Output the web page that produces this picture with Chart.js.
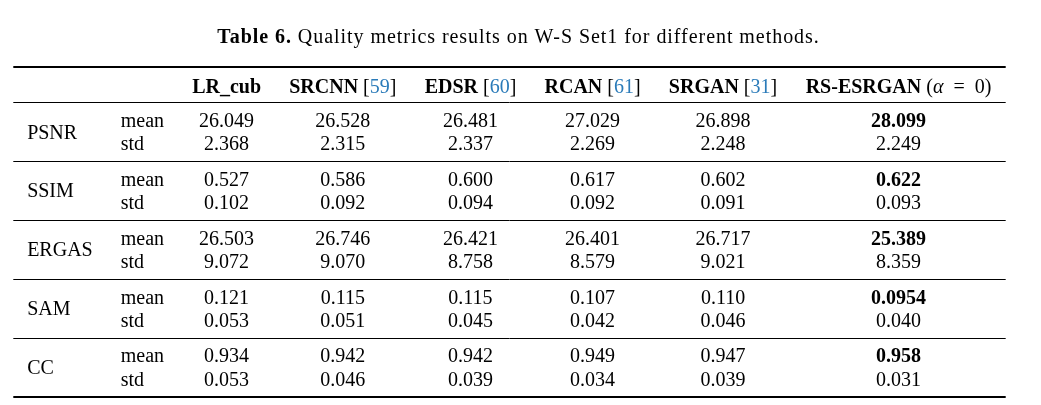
<!DOCTYPE html>
<html>
<head>
<meta charset="utf-8">
<script src="https://cdn.jsdelivr.net/npm/chart.js@4.4.0/dist/chart.umd.min.js"></script>
<style>
  html, body { margin: 0; padding: 0; background: #fff; }
</style>
</head>
<body>
<canvas id="table6" width="1041" height="405"></canvas>
<script>
// table content
var metrics = ['PSNR', 'SSIM', 'ERGAS', 'SAM', 'CC'];
var stats = ['mean', 'std'];
var methods = ['LR_cub', 'SRCNN', 'EDSR', 'RCAN', 'SRGAN', 'RS-ESRGAN'];
var methodRefs = ['', '59', '60', '61', '31', ''];

var psnr  = [['26.049', '26.528', '26.481', '27.029', '26.898', '28.099'],
             ['2.368', '2.315', '2.337', '2.269', '2.248', '2.249']];
var ssim  = [['0.527', '0.586', '0.600', '0.617', '0.602', '0.622'],
             ['0.102', '0.092', '0.094', '0.092', '0.091', '0.093']];
var ergas = [['26.503', '26.746', '26.421', '26.401', '26.717', '25.389'],
             ['9.072', '9.070', '8.758', '8.579', '9.021', '8.359']];
var sam   = [['0.121', '0.115', '0.115', '0.107', '0.110', '0.0954'],
             ['0.053', '0.051', '0.045', '0.042', '0.046', '0.040']];
var cc    = [['0.934', '0.942', '0.942', '0.949', '0.947', '0.958'],
             ['0.053', '0.046', '0.039', '0.034', '0.039', '0.031']];
var values = [psnr, ssim, ergas, sam, cc];
var bestMethod = 5; // bold on mean rows

var FONT = "'Liberation Serif', 'Times New Roman', serif";
var SIZE = 20;
var COLSEP = 13.75;
var BLUE = '#2b7bb9';

function font(style) {
    return (style || '') + ' ' + SIZE + 'px ' + FONT;
}

function headerParts(i) {
    if (i === methods.length - 1) {
        return [
            { t: methods[i], f: 'bold' },
            { t: ' (', f: '' },
            { t: '\u03B1', f: 'italic' },
            { t: '\u2002=\u2002', f: '' },
            { t: '0)', f: '' }
        ];
    }
    var parts = [{ t: methods[i], f: 'bold' }];
    if (methodRefs[i]) {
        parts.push({ t: ' [', f: '' });
        parts.push({ t: methodRefs[i], f: '', c: BLUE });
        parts.push({ t: ']', f: '' });
    }
    return parts;
}

function partsWidth(ctx, parts) {
    var w = 0;
    parts.forEach(function (p) {
        ctx.font = font(p.f);
        w += ctx.measureText(p.t).width;
    });
    return w;
}

function drawParts(ctx, parts, x, y) {
    parts.forEach(function (p) {
        ctx.font = font(p.f);
        ctx.fillStyle = p.c || '#000';
        ctx.fillText(p.t, x, y);
        x += ctx.measureText(p.t).width;
    });
}

// column widths like a tabular: widest cell + column separation
var measureCtx = document.createElement('canvas').getContext('2d');
var colWidths = [];
colWidths.push(Math.max.apply(null, metrics.map(function (m) {
    measureCtx.font = font('');
    return measureCtx.measureText(m).width;
})));
colWidths.push(Math.max.apply(null, stats.map(function (s) {
    measureCtx.font = font('');
    return measureCtx.measureText(s).width;
})));
methods.forEach(function (m, i) {
    var w = partsWidth(measureCtx, headerParts(i));
    values.forEach(function (rows) {
        rows.forEach(function (r, k) {
            measureCtx.font = font(k === 0 && i === bestMethod ? 'bold' : '');
            w = Math.max(w, measureCtx.measureText(r[i]).width);
        });
    });
    colWidths.push(w);
});
var colLeft = [];
var totalWidth = 0;
colWidths.forEach(function (w) {
    colLeft.push(totalWidth);
    totalWidth += w + 2 * COLSEP;
});

// row layout in line units
var HEADER_ROW = 0.8;
var MID_RULE = 1.5;
function meanRow(g) { return 2.25 + 2.5 * g; }
var groupRules = [4, 6.5, 9, 11.5];
var BOTTOM_RULE = 14;

var tablePlugin = {
    id: 'tablePlugin',
    afterDraw: function (chart) {
        var ctx = chart.ctx;
        var xs = chart.scales.x, ys = chart.scales.y;
        var area = chart.chartArea;
        ctx.save();
        ctx.textBaseline = 'alphabetic';
        ctx.textAlign = 'left';

        // title (a little wider spacing, like the original face)
        var title = [
            { t: 'Table 6.', f: 'bold' },
            { t: ' Quality metrics results on W-S Set1 for different methods.', f: '' }
        ];
        ctx.letterSpacing = '0.95px';
        var tw = partsWidth(ctx, title);
        drawParts(ctx, title, chart.width / 2 - 2 - tw / 2, 43);
        ctx.letterSpacing = '0px';

        // rules
        ctx.strokeStyle = '#000';
        function rule(v, lw) {
            var y = ys.getPixelForValue(v);
            y = lw % 2 ? Math.round(y) + 0.5 : Math.round(y);
            ctx.lineWidth = lw;
            ctx.beginPath();
            ctx.moveTo(area.left, y);
            ctx.lineTo(area.right, y);
            ctx.stroke();
        }
        rule(0, 2);
        rule(MID_RULE, 1);
        groupRules.forEach(function (v) { rule(v, 1); });
        rule(BOTTOM_RULE, 2);

        function baseline(v) { return ys.getPixelForValue(v) + 7; }
        function center(c) { return xs.getPixelForValue(colLeft[c] + COLSEP + colWidths[c] / 2); }
        function left(c) { return xs.getPixelForValue(colLeft[c] + COLSEP); }

        // header
        methods.forEach(function (m, i) {
            var parts = headerParts(i);
            var w = partsWidth(ctx, parts);
            drawParts(ctx, parts, center(i + 2) - w / 2, baseline(HEADER_ROW));
        });

        // body
        ctx.fillStyle = '#000';
        metrics.forEach(function (m, g) {
            var r0 = meanRow(g);
            ctx.textAlign = 'left';
            ctx.font = font('');
            ctx.fillText(m, left(0), baseline(r0 + 0.5));
            stats.forEach(function (s, k) {
                ctx.textAlign = 'left';
                ctx.font = font('');
                ctx.fillText(s, left(1), baseline(r0 + k));
                ctx.textAlign = 'center';
                values[g][k].forEach(function (v, i) {
                    ctx.font = font(k === 0 && i === bestMethod ? 'bold' : '');
                    ctx.fillText(v, center(i + 2), baseline(r0 + k));
                });
            });
        });
        ctx.restore();
    }
};

var table_chart = new Chart(document.getElementById('table6').getContext('2d'), {
    type: 'scatter',
    data: { datasets: [{ data: [], pointRadius: 0 }] },
    options: {
        responsive: false,
        animation: false,
        devicePixelRatio: 1,
        layout: { padding: { left: 13.3, right: 35.3, top: 66.7, bottom: 8.3 } },
        plugins: { legend: { display: false }, tooltip: { enabled: false } },
        scales: {
            x: { type: 'linear', min: 0, max: totalWidth, display: false },
            y: { type: 'linear', min: 0, max: BOTTOM_RULE, reverse: true, display: false }
        }
    },
    plugins: [tablePlugin]
});
</script>
</body>
</html>
